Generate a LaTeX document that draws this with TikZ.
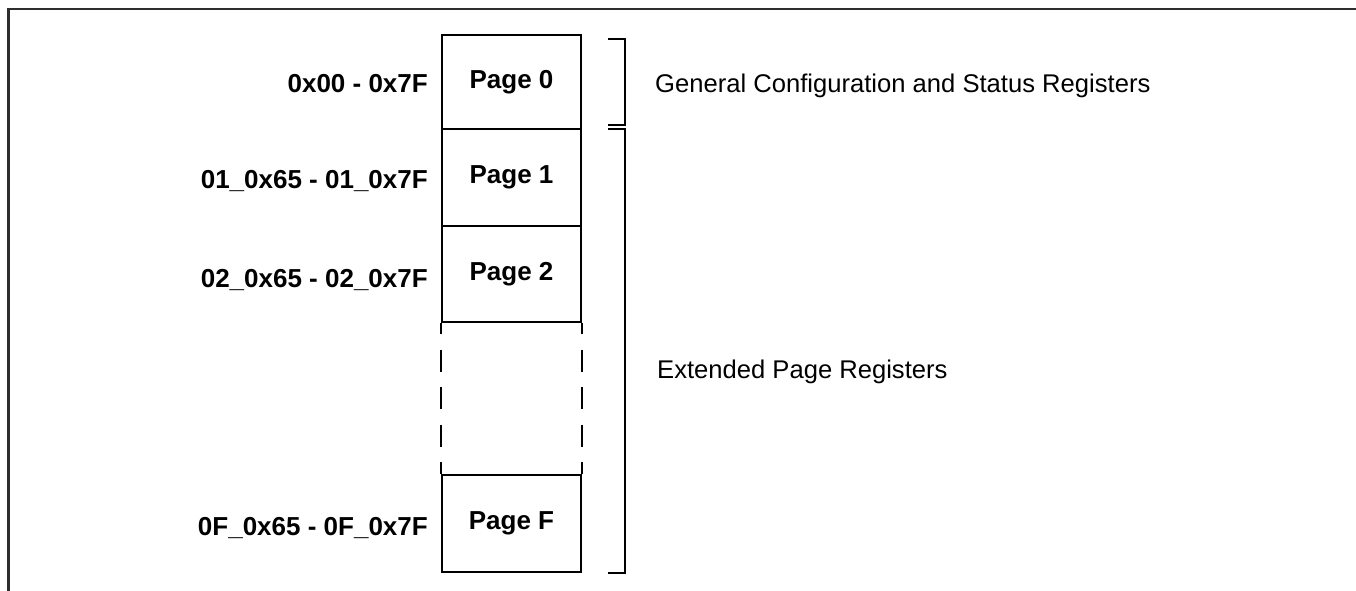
\documentclass[tikz,border=0pt]{standalone}
\usepackage{fontspec}
\setmainfont{Liberation Sans}
\begin{document}
\begin{tikzpicture}[x=1pt,y=-1pt,
  page/.style={draw=black,line width=2pt,minimum width=139pt,inner sep=0pt,font=\fontsize{26}{30}\selectfont\bfseries},
  addr/.style={anchor=base east,inner sep=0pt,font=\fontsize{26}{30}\selectfont\bfseries},
  desc/.style={anchor=base west,inner sep=0pt,font=\fontsize{25.6}{30}\selectfont},
  brace/.style={line width=2pt,line cap=butt},
  frame/.style={draw=black!82,line width=2.5pt},
  dashside/.style={line width=2pt,dash pattern=on 22pt off 15.5pt,dash phase=11pt}]
\useasboundingbox (0,0) rectangle (1356,591);
\fill[white] (0,0) rectangle (1356,591);
% outer frame (top and left)
\draw[frame] (8.5,591) -- (8.5,9) -- (1356,9);
% pages
\node[page,minimum height=94pt] (p0) at (511.5,82) {Page 0};
\node[page,minimum height=97pt] (p1) at (511.5,177.5) {Page 1};
\node[page,minimum height=96pt] (p2) at (511.5,274) {Page 2};
\node[page,minimum height=97pt] (pf) at (511.5,523.5) {Page F};
% dashed sides of the gap
\draw[dashside] (p2.south west) -- (pf.north west);
\draw[dashside] (p2.south east) -- (pf.north east);
% address labels
\node[addr] (a0) at (428,93) {0x00 - 0x7F};
\node[addr] (a1) at (428,188) {01\_0x65 - 01\_0x7F};
\node[addr] (a2) at (428,287) {02\_0x65 - 02\_0x7F};
\node[addr] (af) at (428,535) {0F\_0x65 - 0F\_0x7F};
% brackets
\coordinate (b0t) at (608,39);
\coordinate (b0b) at (608,125);
\coordinate (b1t) at (608,129);
\coordinate (b1b) at (608,573);
\draw[brace] (b0t) -- ++(17,0) |- (b0b);
\draw[brace] (b1t) -- ++(17,0) |- (b1b);
% descriptions
\node[desc] (d0) at (655,93) {General Configuration and Status Registers};
\node[desc] (d1) at (657,378) {Extended Page Registers};
\end{tikzpicture}
\end{document}
